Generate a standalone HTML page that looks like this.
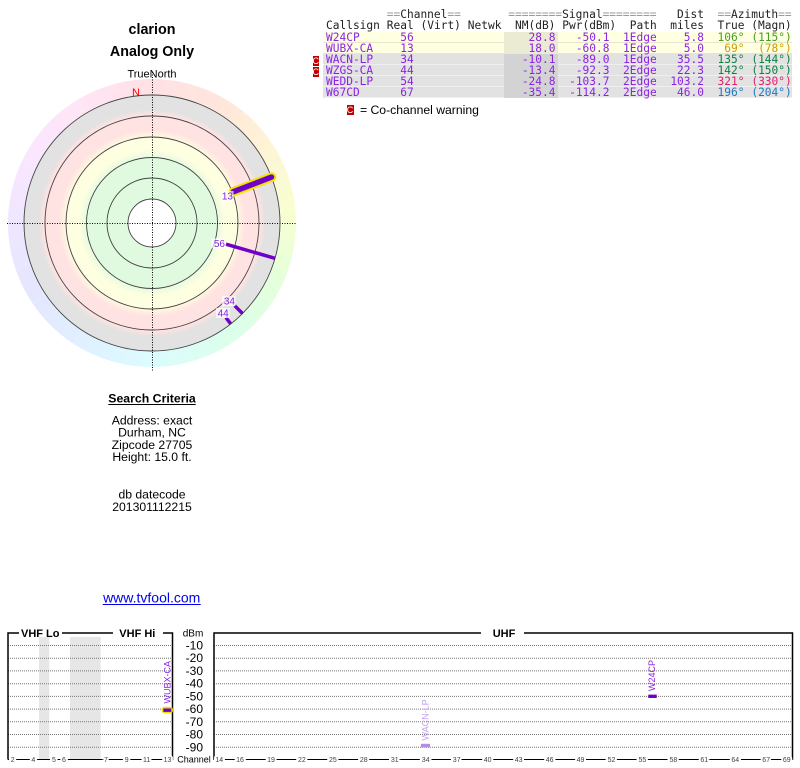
<!DOCTYPE html>
<html><head><meta charset="utf-8">
<style>
html,body{margin:0;padding:0;background:#fff;}
#pg{position:relative;width:800px;height:768px;overflow:hidden;background:#fff;}
#ring{position:absolute;left:8px;top:79px;width:288px;height:288px;border-radius:50%;
background:conic-gradient(hsl(352,100%,94%) 0deg,hsl(18,100%,93%) 30deg,hsl(42,100%,92%) 55deg,hsl(70,100%,91%) 85deg,hsl(105,100%,93%) 115deg,hsl(145,100%,93%) 145deg,hsl(185,100%,93%) 180deg,hsl(210,100%,94%) 210deg,hsl(238,100%,95%) 240deg,hsl(262,100%,95%) 270deg,hsl(290,100%,95%) 300deg,hsl(322,100%,95%) 330deg,hsl(352,100%,94%) 360deg);}
svg{position:absolute;left:0;top:0;}
.rw{position:absolute;left:323px;width:469px;height:11.1px;box-sizing:border-box;}
.ry{background:#ffffe2;border-bottom:1px solid #e6e6cf;}
.rg{background:#e2e2e2;border-bottom:1px solid #eeeeee;}
.nmy{position:absolute;left:504.3px;width:54px;height:11.1px;background:#ebebd3;}
.nmg{position:absolute;left:504.3px;width:54px;height:11.1px;background:#d3d3d3;}
.t{position:absolute;left:0;width:800px;height:11.1px;font-family:"DejaVu Sans Mono","Liberation Mono",monospace;font-size:11.2px;line-height:11.1px;color:#8b24e4;}
.t span{position:absolute;top:0;white-space:pre;}
.h{color:#222;}
.eq{color:#9a9a9a;}
.cs{left:326px;}
.ch{right:386.25px;}
.nm{right:244.5px;}
.pw{right:190.5px;}
.pa{left:623px;}
.di{right:96px;}
.az{right:55.5px;}
.mg{right:8.25px;}
.cc{position:absolute;left:312.5px;width:6px;height:10px;background:#c00000;color:#fff;font-family:"Liberation Sans",sans-serif;font-size:9px;line-height:10px;text-align:center;}
.leg{position:absolute;left:360px;top:102px;font-family:"Liberation Sans",sans-serif;font-size:12.2px;line-height:16px;color:#000;white-space:pre;}
</style></head><body><div id="pg">
<div id="ring"></div>
<svg width="800" height="768" viewBox="0 0 800 768" font-family="Liberation Sans, sans-serif">
<defs>
<radialGradient id="bands" gradientUnits="userSpaceOnUse" cx="152" cy="223" r="128">
<stop offset="0" stop-color="#e0fae0"/>
<stop offset="0.5" stop-color="#e0fae0"/>
<stop offset="0.57" stop-color="#fefee0"/>
<stop offset="0.66" stop-color="#fefee0"/>
<stop offset="0.73" stop-color="#ffe2e2"/>
<stop offset="0.845" stop-color="#ffe2e2"/>
<stop offset="0.885" stop-color="#e2e2e2"/>
<stop offset="1" stop-color="#e2e2e2"/>
</radialGradient>
</defs>
<circle cx="152" cy="223" r="128" fill="url(#bands)"/>
<g fill="none" stroke="#444" stroke-width="0.9">
<circle cx="152" cy="223" r="128"/>
<circle cx="152" cy="223" r="107"/>
<circle cx="152" cy="223" r="86"/>
<circle cx="152" cy="223" r="65.5"/>
<circle cx="152" cy="223" r="45"/>
</g>
<circle cx="152" cy="223" r="24" fill="#fff" stroke="#444" stroke-width="0.9"/>
<g stroke="#000" stroke-width="1" stroke-dasharray="1,1.5">
<line x1="7" y1="223.5" x2="297" y2="223.5"/>
<line x1="152.5" y1="72" x2="152.5" y2="371"/>
</g>
<!-- signal lines -->
<line x1="233.2" y1="191.8" x2="271.5" y2="177.1" stroke="#f2e400" stroke-width="9.5" stroke-linecap="round"/>
<line x1="233.2" y1="191.8" x2="271.5" y2="177.1" stroke="#7000c8" stroke-width="5.5" stroke-linecap="round"/>
<line x1="226" y1="244.2" x2="275" y2="258.3" stroke="#7000c8" stroke-width="3.5"/>
<line x1="234.7" y1="305.7" x2="242.5" y2="313.5" stroke="#7000c8" stroke-width="3.5"/>
<line x1="225.9" y1="317.6" x2="230.8" y2="323.9" stroke="#7000c8" stroke-width="3.5"/>
<g fill="#fff" fill-opacity="0.7">
<rect x="221.5" y="191" width="12" height="10"/>
<rect x="211.5" y="238.3" width="14" height="10"/>
<rect x="222" y="296" width="13.5" height="10"/>
<rect x="216" y="308" width="13.5" height="10"/>
</g>
<g fill="#8222e0" font-size="10" text-anchor="end">
<text x="233" y="199.6">13</text>
<text x="225" y="247">56</text>
<text x="235" y="304.7">34</text>
<text x="228.7" y="316.7">44</text>
</g>
<text x="136" y="96" fill="#ff0000" font-size="11" text-anchor="middle">N</text>
<!-- titles -->
<text x="152" y="34" font-size="14.3" font-weight="bold" text-anchor="middle">clarion</text>
<text x="152" y="56" font-size="14.3" font-weight="bold" text-anchor="middle">Analog Only</text>
<text x="152" y="77.5" font-size="11" text-anchor="middle">TrueNorth</text>
<!-- search criteria -->
<text x="152" y="402.5" font-size="12.3" font-weight="bold" text-anchor="middle">Search Criteria</text>
<line x1="108.3" y1="404.5" x2="195.7" y2="404.5" stroke="#000" stroke-width="1"/>
<g font-size="12.2" text-anchor="middle">
<text x="152" y="424.3">Address: exact</text>
<text x="152" y="436.6">Durham, NC</text>
<text x="152" y="448.9">Zipcode 27705</text>
<text x="152" y="461.2">Height: 15.0 ft.</text>
<text x="152" y="498.5">db datecode</text>
<text x="152" y="510.8">201301112215</text>
</g>
<text x="151.7" y="602.5" font-size="14" fill="#0000ee" text-anchor="middle">www.tvfool.com</text>
<line x1="102.7" y1="604.5" x2="200.7" y2="604.5" stroke="#0000ee" stroke-width="1"/>
<!-- bottom chart -->
<rect x="39" y="637" width="10.3" height="122" fill="#e6e6e6"/>
<rect x="70" y="637" width="30.7" height="122" fill="#e6e6e6"/>
<g stroke="#777" stroke-width="1" stroke-dasharray="1,1">
<line x1="8" y1="645.5" x2="172" y2="645.5"/><line x1="214" y1="645.5" x2="792" y2="645.5"/>
<line x1="8" y1="658.2" x2="172" y2="658.2"/><line x1="214" y1="658.2" x2="792" y2="658.2"/>
<line x1="8" y1="670.9" x2="172" y2="670.9"/><line x1="214" y1="670.9" x2="792" y2="670.9"/>
<line x1="8" y1="683.7" x2="172" y2="683.7"/><line x1="214" y1="683.7" x2="792" y2="683.7"/>
<line x1="8" y1="696.4" x2="172" y2="696.4"/><line x1="214" y1="696.4" x2="792" y2="696.4"/>
<line x1="8" y1="709.1" x2="172" y2="709.1"/><line x1="214" y1="709.1" x2="792" y2="709.1"/>
<line x1="8" y1="721.8" x2="172" y2="721.8"/><line x1="214" y1="721.8" x2="792" y2="721.8"/>
<line x1="8" y1="734.5" x2="172" y2="734.5"/><line x1="214" y1="734.5" x2="792" y2="734.5"/>
<line x1="8" y1="747.3" x2="172" y2="747.3"/><line x1="214" y1="747.3" x2="792" y2="747.3"/>
</g>
<g fill="none" stroke="#000" stroke-width="1.5">
<path d="M8,759.5 L8,633 L19,633 M62,633 L113,633 M163,633 L172.5,633 L172.5,760"/>
<path d="M214,760 L214,633 L481,633 M524,633 L792.5,633 L792.5,760"/>
</g>
<line x1="8" y1="759.5" x2="172.5" y2="759.5" stroke="#000" stroke-width="1"/>
<line x1="214" y1="759.5" x2="792.5" y2="759.5" stroke="#000" stroke-width="1"/>
<g font-size="11" font-weight="bold">
<text x="21" y="636.8">VHF Lo</text>
<text x="119.3" y="636.8">VHF Hi</text>
<text x="492.7" y="636.8">UHF</text>
</g>
<text x="203.3" y="636.5" font-size="10" text-anchor="end">dBm</text>
<g font-size="12" text-anchor="end">
<text x="203" y="649.5">-10</text>
<text x="203" y="662.2">-20</text>
<text x="203" y="674.9">-30</text>
<text x="203" y="687.7">-40</text>
<text x="203" y="700.4">-50</text>
<text x="203" y="713.1">-60</text>
<text x="203" y="725.8">-70</text>
<text x="203" y="738.5">-80</text>
<text x="203" y="751.3">-90</text>
</g>
<text x="194" y="762.5" font-size="9" text-anchor="middle">Channel</text>
<g font-size="7" fill="#444" text-anchor="middle" stroke="#fff" stroke-width="4" paint-order="stroke">
<text x="12.7" y="762">2</text><text x="33.3" y="762">4</text><text x="54" y="762">5</text><text x="64" y="762">6</text>
<text x="106" y="762">7</text><text x="126.7" y="762">9</text><text x="146.7" y="762">11</text><text x="167.5" y="762">13</text>
<text x="219.3" y="762">14</text><text x="240" y="762">16</text><text x="271" y="762">19</text><text x="301.9" y="762">22</text>
<text x="332.9" y="762">25</text><text x="363.8" y="762">28</text><text x="394.8" y="762">31</text><text x="425.7" y="762">34</text>
<text x="456.7" y="762">37</text><text x="487.6" y="762">40</text><text x="518.6" y="762">43</text><text x="549.6" y="762">46</text>
<text x="580.5" y="762">49</text><text x="611.5" y="762">52</text><text x="642.4" y="762">55</text><text x="673.4" y="762">58</text>
<text x="704.3" y="762">61</text><text x="735.3" y="762">64</text><text x="766.2" y="762">67</text><text x="786.8" y="762">69</text>
</g>
<!-- markers -->
<rect x="161.5" y="706.8" width="11.5" height="6.6" rx="3" fill="#f0e000"/>
<rect x="163.3" y="708.5" width="8" height="3.4" fill="#7000c8"/>
<text transform="translate(170.3,703.5) rotate(-90)" font-size="9" fill="#8a22e0">WUBX-CA</text>
<rect x="421" y="743.8" width="9" height="3.6" fill="#b48ee0"/>
<text transform="translate(428.3,740.5) rotate(-90)" font-size="9" fill="#c2a0ee">WACN-LP</text>
<rect x="648.3" y="694.6" width="8.4" height="3.4" fill="#7000c8"/>
<text transform="translate(654.9,691) rotate(-90)" font-size="9" fill="#8a22e0">W24CP</text>
</svg>

<!-- table backgrounds -->
<div class="rw ry" style="top:31.8px"></div>
<div class="rw ry" style="top:42.9px"></div>
<div class="rw rg" style="top:54px"></div>
<div class="rw rg" style="top:65.1px"></div>
<div class="rw rg" style="top:76.2px"></div>
<div class="rw rg" style="top:87.3px"></div>
<div class="nmy" style="top:31.8px"></div>
<div class="nmy" style="top:42.9px"></div>
<div class="nmg" style="top:54px"></div>
<div class="nmg" style="top:65.1px"></div>
<div class="nmg" style="top:76.2px"></div>
<div class="nmg" style="top:87.3px"></div>

<!-- headers -->
<div class="t h" style="top:8.9px">
<span style="left:386.75px"><span class="eq" style="position:static">==</span>Channel<span class="eq" style="position:static">==</span></span>
<span style="left:508.25px"><span class="eq" style="position:static">========</span>Signal<span class="eq" style="position:static">========</span></span>
<span style="left:677px">Dist</span>
<span style="left:717.5px"><span class="eq" style="position:static">==</span>Azimuth<span class="eq" style="position:static">==</span></span>
</div>
<div class="t h" style="top:19.6px">
<span style="left:326px">Callsign</span>
<span style="left:386.75px">Real</span>
<span style="left:420.5px">(Virt)</span>
<span style="left:467.75px">Netwk</span>
<span style="left:515px">NM(dB)</span>
<span style="left:562.25px">Pwr(dBm)</span>
<span style="left:629.75px">Path</span>
<span style="left:670.25px">miles</span>
<span style="left:717.5px">True</span>
<span style="left:751.25px">(Magn)</span>
</div>

<!-- rows -->
<div class="t" style="top:31.8px"><span class="cs">W24CP</span><span class="ch">56</span><span class="nm">28.8</span><span class="pw">-50.1</span><span class="pa">1Edge</span><span class="di">5.8</span><span class="az" style="color:#44a020">106°</span><span class="mg" style="color:#44a020">(115°)</span></div>
<div class="t" style="top:42.9px"><span class="cs">WUBX-CA</span><span class="ch">13</span><span class="nm">18.0</span><span class="pw">-60.8</span><span class="pa">1Edge</span><span class="di">5.0</span><span class="az" style="color:#c8a000">69°</span><span class="mg" style="color:#c8a000">(78°)</span></div>
<div class="t" style="top:54px"><span class="cs">WACN-LP</span><span class="ch">34</span><span class="nm">-10.1</span><span class="pw">-89.0</span><span class="pa">1Edge</span><span class="di">35.5</span><span class="az" style="color:#108040">135°</span><span class="mg" style="color:#108040">(144°)</span></div>
<div class="t" style="top:65.1px"><span class="cs">WZGS-CA</span><span class="ch">44</span><span class="nm">-13.4</span><span class="pw">-92.3</span><span class="pa">2Edge</span><span class="di">22.3</span><span class="az" style="color:#108040">142°</span><span class="mg" style="color:#108040">(150°)</span></div>
<div class="t" style="top:76.2px"><span class="cs">WEDD-LP</span><span class="ch">54</span><span class="nm">-24.8</span><span class="pw">-103.7</span><span class="pa">2Edge</span><span class="di">103.2</span><span class="az" style="color:#e0206a">321°</span><span class="mg" style="color:#e0206a">(330°)</span></div>
<div class="t" style="top:87.3px"><span class="cs">W67CD</span><span class="ch">67</span><span class="nm">-35.4</span><span class="pw">-114.2</span><span class="pa">2Edge</span><span class="di">46.0</span><span class="az" style="color:#2078c0">196°</span><span class="mg" style="color:#2078c0">(204°)</span></div>

<div class="cc" style="top:55.5px">C</div>
<div class="cc" style="top:66.5px">C</div>
<div class="cc" style="left:346.5px;top:104.5px;width:7px;">C</div>
<div class="leg">= Co-channel warning</div>
</div></body></html>
